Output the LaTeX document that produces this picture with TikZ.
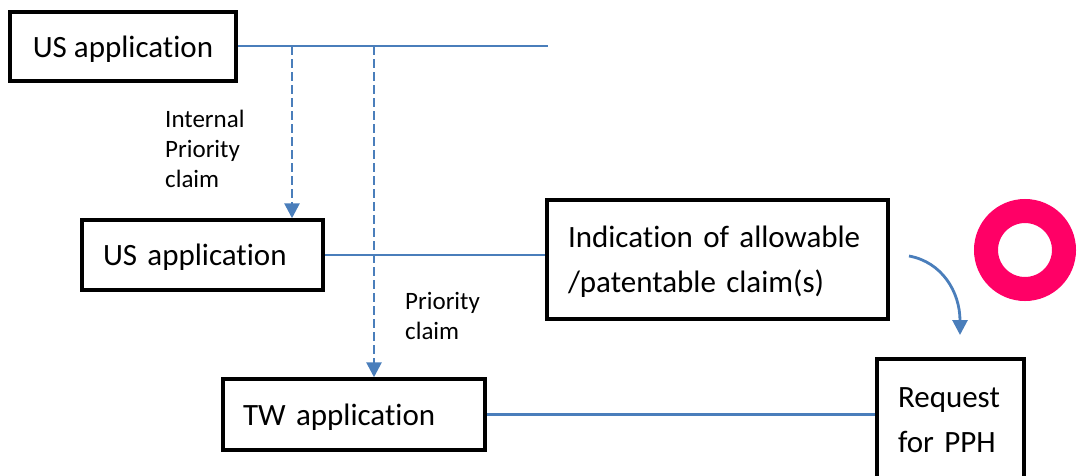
\documentclass[tikz,border=0pt]{standalone}
\usepackage{fontspec}
\setmainfont{Carlito}[Ligatures={NoCommon}]
\usetikzlibrary{arrows.meta}
\definecolor{lineblue}{HTML}{4A7EBB}
\definecolor{ringpink}{HTML}{FF0066}
\begin{document}
\begin{tikzpicture}[x=1pt,y=-1pt,
  box/.style={draw=black, line width=3.5pt, rectangle, inner sep=0pt, font=\fontsize{31}{45}\selectfont},
  onebox/.style={box, text depth=0pt},
  conn/.style={draw=lineblue, line width=2.8pt},
  tip/.style={-{Triangle[length=15pt,width=15pt]}},
  dasharrow/.style={conn, tip, dash pattern=on 9pt off 4pt},
  lbl/.style={font=\fontsize{25}{30}\selectfont, align=left, inner sep=0pt, anchor=north west}]
\useasboundingbox (0,0) rectangle (1077,475);
\node[onebox, minimum width=226pt, minimum height=69pt] (us1) at (123,46.5) {US application};
\node[onebox, minimum width=241pt, minimum height=70pt, inner xsep=21pt, text width=199pt, align=left] (us2) at (202.5,255) {US application};
\node[box, minimum width=341pt, minimum height=119pt, inner xsep=21pt, text width=299pt, align=left, text depth=45pt] (ind) at (717.5,259.5) {Indication of allowable\\/patentable claim(s)};
\node[onebox, minimum width=262pt, minimum height=71pt, inner xsep=20pt, text width=222pt, align=left] (tw) at (354,414.5) {TW application};
\node[box, minimum width=147pt, minimum height=122pt, inner xsep=21pt, text width=105pt, align=left] (pph) at (950.5,420) {Request\\for PPH};
\coordinate (e1) at (548,46);
\coordinate (j1) at (292,46);
\coordinate (j2) at (374,46);
\draw[conn] (us1.east |- e1) -- (e1);
\draw[dasharrow] (j1) -- (j1 |- us2.north);
\draw[dasharrow] (j2) -- (j2 |- tw.north);
\draw[conn] (us2.east) -- (ind.west |- us2.east);
\draw[conn] (tw.east) -- (pph.west |- tw.east);
\coordinate (cs) at (909,256);
\coordinate (ce) at (960,335);
\draw[conn, tip] (cs) .. controls (942,262) and (960,292) .. (ce);
\draw[ringpink, line width=24pt] (1025,250) circle[radius=39pt];
\node[lbl] (lab1) at (165,110) {Internal\\Priority\\claim};
\node[lbl] (lab2) at (405,292) {Priority\\claim};
\end{tikzpicture}
\end{document}
